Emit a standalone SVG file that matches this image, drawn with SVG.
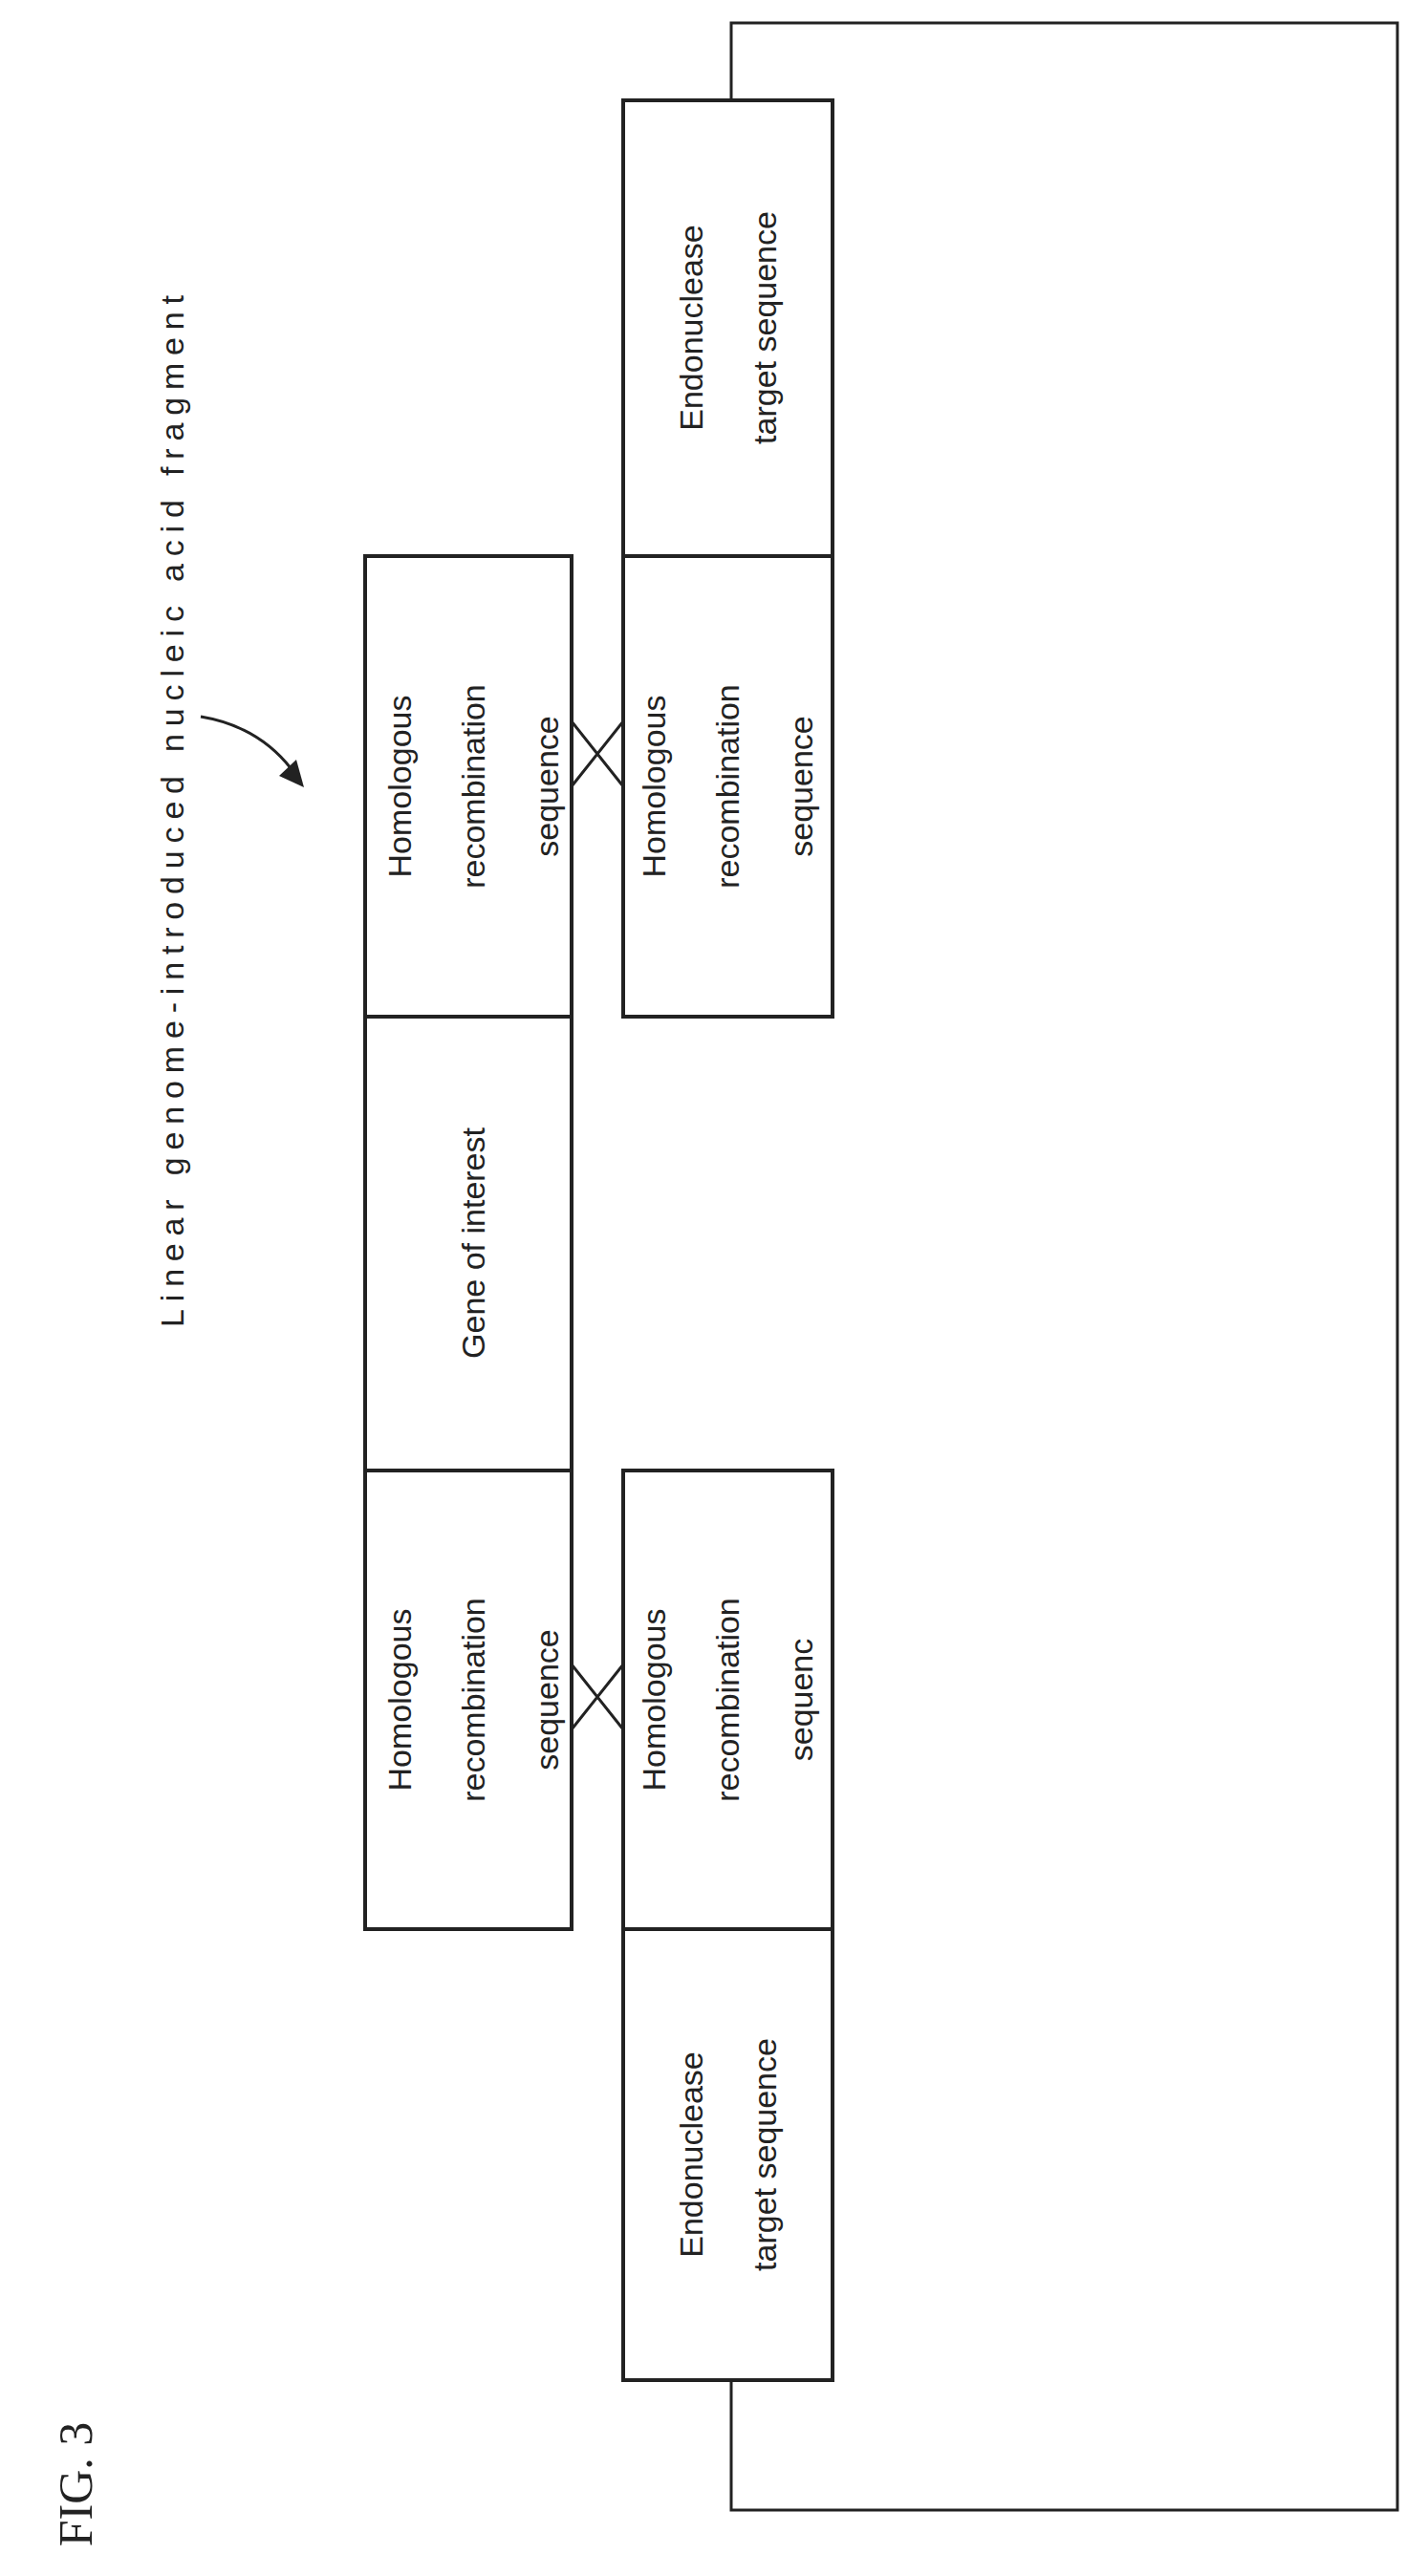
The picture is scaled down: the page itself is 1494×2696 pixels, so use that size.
<svg xmlns="http://www.w3.org/2000/svg" width="1494" height="2696" viewBox="0 0 1494 2696">
<style>
.b{fill:none;stroke:#222;stroke-width:4}
.t{font-family:"Liberation Sans",Arial,sans-serif;font-size:34px;fill:#222;text-anchor:middle}
.c{fill:none;stroke:#222;stroke-width:3}
</style>
<rect width="1494" height="2696" fill="#fff"/>
<text x="0" y="0" transform="translate(96,2600) rotate(-90)" style="font-family:'Liberation Serif',serif;font-size:50px;fill:#222" text-anchor="middle">FIG. 3</text>
<text class="t" transform="translate(192,849) rotate(-90)" textLength="1080">Linear genome-introduced nucleic acid fragment</text>
<g id="connectors">
<path class="c" d="M765,105 V24 H1462 V2627 H765 V2491"/>
<path class="c" d="M598,755 L652,823 M598,823 L652,755"/>
<path class="c" d="M598,1742 L652,1810 M598,1810 L652,1742"/>
<path class="c" d="M210,750 Q270,760 305,805"/>
<polygon points="318,824 292,812 310,795" fill="#222"/>
</g>
<g id="hr1"><rect class="b" x="382" y="582" width="216" height="482"/>
<text class="t" transform="translate(496,823) rotate(-90)"><tspan x="0" y="-66">Homologous</tspan><tspan x="0" y="11">recombination</tspan><tspan x="0" y="88">sequence</tspan></text></g>
<g id="goi"><rect class="b" x="382" y="1064" width="216" height="475"/>
<text class="t" transform="translate(496,1301) rotate(-90)"><tspan x="0" y="11">Gene of interest</tspan></text></g>
<g id="hr2"><rect class="b" x="382" y="1539" width="216" height="480"/>
<text class="t" transform="translate(496,1779) rotate(-90)"><tspan x="0" y="-66">Homologous</tspan><tspan x="0" y="11">recombination</tspan><tspan x="0" y="88">sequence</tspan></text></g>
<g id="endo1"><rect class="b" x="652" y="105" width="219" height="477"/>
<text class="t" transform="translate(762,343) rotate(-90)"><tspan x="0" y="-27">Endonuclease</tspan><tspan x="0" y="50">target sequence</tspan></text></g>
<g id="hr3"><rect class="b" x="652" y="582" width="219" height="482"/>
<text class="t" transform="translate(762,823) rotate(-90)"><tspan x="0" y="-66">Homologous</tspan><tspan x="0" y="11">recombination</tspan><tspan x="0" y="88">sequence</tspan></text></g>
<g id="hr4"><rect class="b" x="652" y="1539" width="219" height="480"/>
<text class="t" transform="translate(762,1779) rotate(-90)"><tspan x="0" y="-66">Homologous</tspan><tspan x="0" y="11">recombination</tspan><tspan x="0" y="88">sequenc</tspan></text></g>
<g id="endo2"><rect class="b" x="652" y="2019" width="219" height="472"/>
<text class="t" transform="translate(762,2255) rotate(-90)"><tspan x="0" y="-27">Endonuclease</tspan><tspan x="0" y="50">target sequence</tspan></text></g>
</svg>
